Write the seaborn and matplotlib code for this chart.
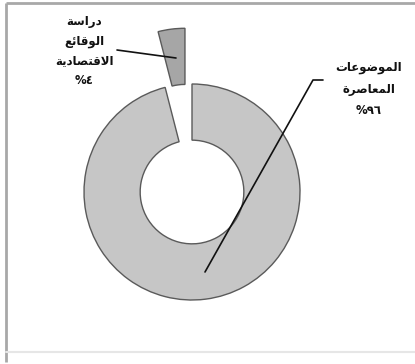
import matplotlib
matplotlib.use("Agg")
import matplotlib.pyplot as plt
import seaborn as sns

sns.set_theme(style="white")
plt.rcParams['font.family'] = ['DejaVu Sans']

# ---- data ----
categories = ["دراسة الوقائع الاقتصادية", "الموضوعات المعاصرة"]
values = [4, 96]
pct_labels = ["٤", "٩٦"]
colors = ["#a6a6a6", "#c6c6c6"]

# ---- minimal Arabic shaping (presentation forms, visual order) ----
FORMS = {  # isolated, final, initial, medial
    'ا': (0xFE8D, 0xFE8E, None, None),
    'د': (0xFEA9, 0xFEAA, None, None),
    'ر': (0xFEAD, 0xFEAE, None, None),
    'و': (0xFEED, 0xFEEE, None, None),
    'ة': (0xFE93, 0xFE94, None, None),
    'ل': (0xFEDD, 0xFEDE, 0xFEDF, 0xFEE0),
    'س': (0xFEB1, 0xFEB2, 0xFEB3, 0xFEB4),
    'ق': (0xFED5, 0xFED6, 0xFED7, 0xFED8),
    'ئ': (0xFE89, 0xFE8A, 0xFE8B, 0xFE8C),
    'ع': (0xFEC9, 0xFECA, 0xFECB, 0xFECC),
    'ت': (0xFE95, 0xFE96, 0xFE97, 0xFE98),
    'ص': (0xFEB9, 0xFEBA, 0xFEBB, 0xFEBC),
    'ي': (0xFEF1, 0xFEF2, 0xFEF3, 0xFEF4),
    'م': (0xFEE1, 0xFEE2, 0xFEE3, 0xFEE4),
    'ض': (0xFEBD, 0xFEBE, 0xFEBF, 0xFEC0),
}


def shape_word(word):
    units = []
    i = 0
    while i < len(word):
        if word[i] == 'ل' and i + 1 < len(word) and word[i + 1] == 'ا':
            units.append('LA')
            i += 2
        else:
            units.append(word[i])
            i += 1

    def joins_left(u):
        if u == 'LA':
            return False
        f = FORMS.get(u)
        return f is not None and f[2] is not None

    def joins_right(u):
        return u == 'LA' or u in FORMS

    out = []
    for k, u in enumerate(units):
        prev_j = k > 0 and joins_left(units[k - 1]) and joins_right(u)
        next_j = k + 1 < len(units) and joins_left(u) and joins_right(units[k + 1])
        if u == 'LA':
            out.append(chr(0xFEFC if prev_j else 0xFEFB))
            continue
        iso, fin, ini, med = FORMS[u]
        if prev_j and next_j:
            out.append(chr(med))
        elif prev_j:
            out.append(chr(fin))
        elif next_j:
            out.append(chr(ini))
        else:
            out.append(chr(iso))
    return ''.join(reversed(out))


W, H = 415, 364
fig = plt.figure(figsize=(W / 100, H / 100), dpi=100)
ax = fig.add_axes([0, 0, 1, 1])

cx, cy, R = 192, H - 192, 108
ring_w = R * 0.52
wedges, _ = ax.pie(values, colors=colors, startangle=90, counterclock=True,
                   radius=R, center=(cx, cy), explode=[ring_w, 0],
                   wedgeprops=dict(width=ring_w, edgecolor="#5a5a5a",
                                   linewidth=1.0))

ax.set_xlim(0, W)
ax.set_ylim(0, H)
ax.set_aspect('equal')
ax.axis('off')

# frame
ax.plot([6, 6], [2, H - 3], color="#a8a8a8", lw=2, solid_capstyle='butt')
ax.plot([6, W], [H - 3, H - 3], color="#a8a8a8", lw=2, solid_capstyle='butt')
ax.plot([6, W], [12, 12], color="#e6e6e6", lw=1.5)

# labels
tstyle = dict(ha='center', va='center', fontsize=8.5, fontweight='bold',
              color="#111111")
left_words = categories[0].split()
ly = [H - 22, H - 41, H - 61, H - 80]
for w, y in zip(left_words, ly[:3]):
    ax.text(84, y, shape_word(w), **tstyle)
ax.text(84, ly[3], "%" + pct_labels[0], **tstyle)

right_words = categories[1].split()
ry = [H - 68, H - 89, H - 110]
for w, y in zip(right_words, ry[:2]):
    ax.text(369, y, shape_word(w), **tstyle)
ax.text(369, ry[2], "%" + pct_labels[1], **tstyle)

# leader lines
ax.plot([117, 176], [H - 50, H - 58], color="#111111", lw=1.2)
ax.plot([205, 313, 323], [H - 272, H - 80, H - 80], color="#111111", lw=1.2)

fig.savefig("out.png", dpi=100)
